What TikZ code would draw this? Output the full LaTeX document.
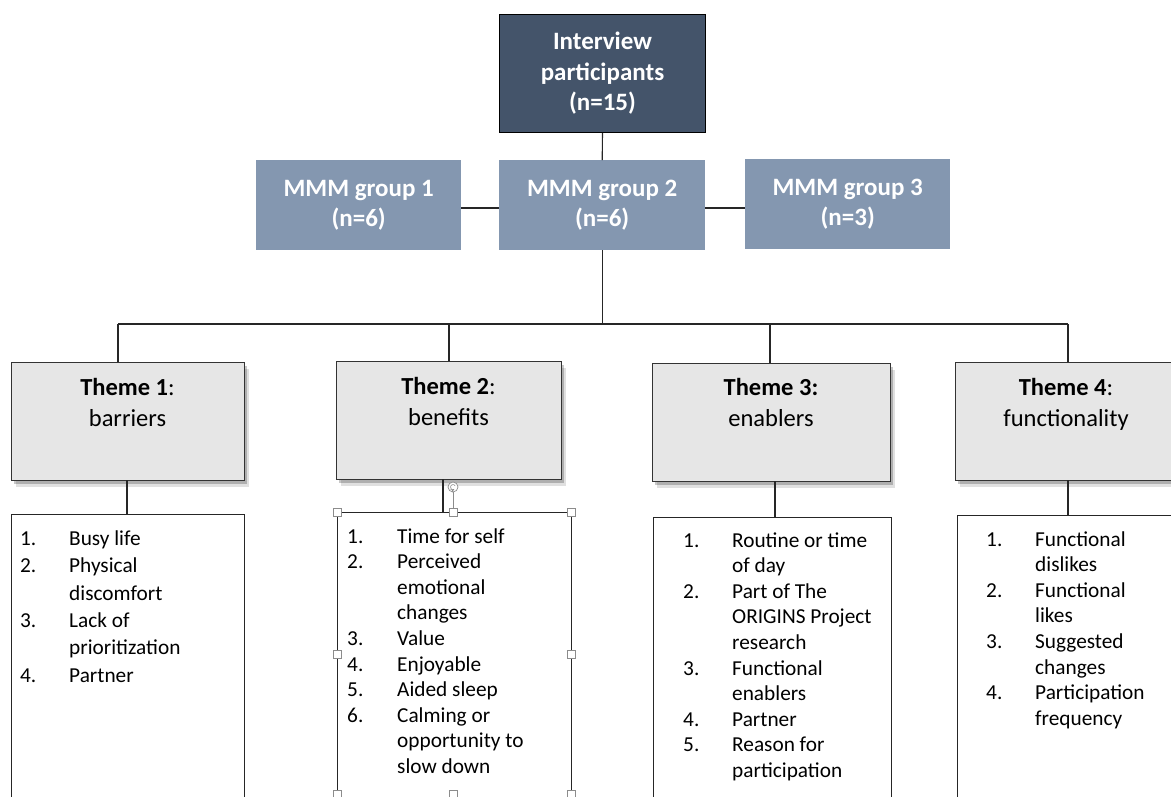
\documentclass[tikz,border=0pt]{standalone}
\usepackage{fontspec}
\setmainfont{Carlito}
\usetikzlibrary{shadows,calc}
\definecolor{topfill}{HTML}{44546A}
\definecolor{grpfill}{HTML}{8497B0}
\definecolor{themefill}{HTML}{E6E6E6}
\definecolor{handlegray}{HTML}{8C8C8C}
\tikzset{
  link/.style={draw=black!85, line width=1.1pt},
  topbox/.style={rectangle, draw=black, line width=1pt, fill=topfill, text=white, anchor=north west,
    inner sep=0pt, align=center, font=\fontsize{25}{30.5}\selectfont\bfseries},
  grpbox/.style={rectangle, fill=grpfill, text=white, anchor=north west, inner sep=0pt,
    align=center, font=\fontsize{25}{30}\selectfont\bfseries},
  themebox/.style={rectangle, draw=black!80, line width=1pt, fill=themefill, anchor=north west, inner sep=0pt,
    drop shadow={shadow xshift=2pt, shadow yshift=-3pt, opacity=0.22, fill=black},
    drop shadow={shadow xshift=4pt, shadow yshift=-6pt, opacity=0.12, fill=black}},
  themetitle/.style={anchor=base, inner sep=0pt, font=\fontsize{24.5}{28}\selectfont},
  listbox/.style={rectangle, draw=black!85, line width=1pt, fill=white, anchor=north west, inner sep=0pt},
  listtext/.style={anchor=north west, inner sep=0pt, font=\fontsize{21.3}{25.6}\selectfont},
  handle/.style={rectangle, draw=handlegray, fill=white, line width=0.6pt, minimum size=8pt, inner sep=0pt},
}
\begin{document}
\begin{tikzpicture}[x=1pt,y=-1pt]
\useasboundingbox (0,0) rectangle (1171,796);
\clip (0,0) rectangle (1171,796);
% top
\node[topbox, minimum width=206pt, minimum height=118pt] (top) at (499,14) {Interview\\participants\\(n=15)};
% groups
\node[grpbox, minimum width=205pt, minimum height=90pt] (g1) at (256,160) {\raisebox{8pt}{\begin{tabular}{@{}c@{}}MMM group 1\\(n=6)\end{tabular}}};
\node[grpbox, minimum width=206pt, minimum height=90pt] (g2) at (499,160) {\raisebox{8pt}{\begin{tabular}{@{}c@{}}MMM group 2\\(n=6)\end{tabular}}};
\node[grpbox, minimum width=205pt, minimum height=90pt] (g3) at (745,159) {\raisebox{8pt}{\begin{tabular}{@{}c@{}}MMM group 3\\(n=3)\end{tabular}}};
% theme boxes
\node[themebox, minimum width=233pt, minimum height=118pt] (t1) at (11,362) {};
\node[themebox, minimum width=225pt, minimum height=118pt] (t2) at (336,361) {};
\node[themebox, minimum width=238pt, minimum height=118pt] (t3) at (652,363) {};
\node[themebox, minimum width=240pt, minimum height=118pt] (t4) at (955,362) {};
\node[themetitle] (t1a) at (127.5,395) {\textbf{Theme 1}:};
\node[themetitle] (t1b) at (127.5,426) {barriers};
\node[themetitle] (t2a) at (448.5,394) {\textbf{Theme 2}:};
\node[themetitle] (t2b) at (448.5,425) {benefits};
\node[themetitle] (t3a) at (771,395) {\textbf{Theme 3:}};
\node[themetitle] (t3b) at (771,426) {enablers};
\node[themetitle] (t4a) at (1066,395) {\textbf{Theme 4}:};
\node[themetitle] (t4b) at (1066,426) {functionality};
% list boxes
\node[listbox, minimum width=233pt, minimum height=290pt] (l1) at (11,514) {};
\node[listbox, minimum width=234pt, minimum height=290pt] (l2) at (337,512) {};
\node[listbox, minimum width=238pt, minimum height=290pt] (l3) at (653,517) {};
\node[listbox, minimum width=240pt, minimum height=290pt] (l4) at (957,515) {};
\node[listtext, font=\fontsize{21.3}{27.4}\selectfont] (l1t) at (20,526) {\begin{tabular}{@{}p{49pt}@{}l@{}}
1. & Busy life\\ 2. & Physical\\ & discomfort\\ 3. & Lack of\\ & prioritization\\ 4. & Partner\end{tabular}};
\node[listtext] (l2t) at (347,525) {\begin{tabular}{@{}p{50pt}@{}l@{}}
1. & Time for self\\ 2. & Perceived\\ & emotional\\ & changes\\ 3. & Value\\ 4. & Enjoyable\\ 5. & Aided sleep\\ 6. & Calming or\\ & opportunity to\\ & slow down\end{tabular}};
\node[listtext] (l3t) at (683,529) {\begin{tabular}{@{}p{49pt}@{}l@{}}
1. & Routine or time\\ & of day\\ 2. & Part of The\\ & ORIGINS Project\\ & research\\ 3. & Functional\\ & enablers\\ 4. & Partner\\ 5. & Reason for\\ & participation\end{tabular}};
\node[listtext] (l4t) at (986,528) {\begin{tabular}{@{}p{49pt}@{}l@{}}
1. & Functional\\ & dislikes\\ 2. & Functional\\ & likes\\ 3. & Suggested\\ & changes\\ 4. & Participation\\ & frequency\end{tabular}};
% connectors
\coordinate (busL) at (118,324);
\coordinate (busR) at (1068,324);
\coordinate (d2) at (449,324);
\coordinate (d3) at (770,324);
\draw[link] (top.south) -- (g2.north);
\draw[link] (g1.east |- 0,208) -- (g2.west |- 0,208);
\draw[link] (g2.east |- 0,208) -- (g3.west |- 0,208);
\draw[link] (g2.south) -- (g2.south |- busL);
\draw[link] (busL) -- (busR);
\draw[link] (busL) -- (busL |- t1.north);
\draw[link] (d2) -- (d2 |- t2.north);
\draw[link] (d3) -- (d3 |- t3.north);
\draw[link] (busR) -- (busR |- t4.north);
\draw[link] (127,480) -- (127,514);
\draw[link] (443,479) -- (443,512);
\draw[link] (775,481) -- (775,517);
\draw[link] (1068,480) -- (1068,515);
% selection handles on list 2
\draw[handlegray, line width=0.8pt] (453,492) -- (453,508);
\node[circle, draw=handlegray, fill=white, line width=0.7pt, minimum size=10pt, inner sep=0pt] (rot) at (453,487) {};
\draw[handlegray, line width=0.6pt, ->, >=stealth] ([shift={(30:2.5pt)}]rot.center) arc (30:300:2.5pt);
\foreach \p/\n in {{337,512}/h1,{453,512}/h2,{571,512}/h3,{337,654}/h4,{571,654}/h5,{337,794}/h6,{453,794}/h7,{571,794}/h8}
  \node[handle] (\n) at (\p) {};
\end{tikzpicture}
\end{document}
